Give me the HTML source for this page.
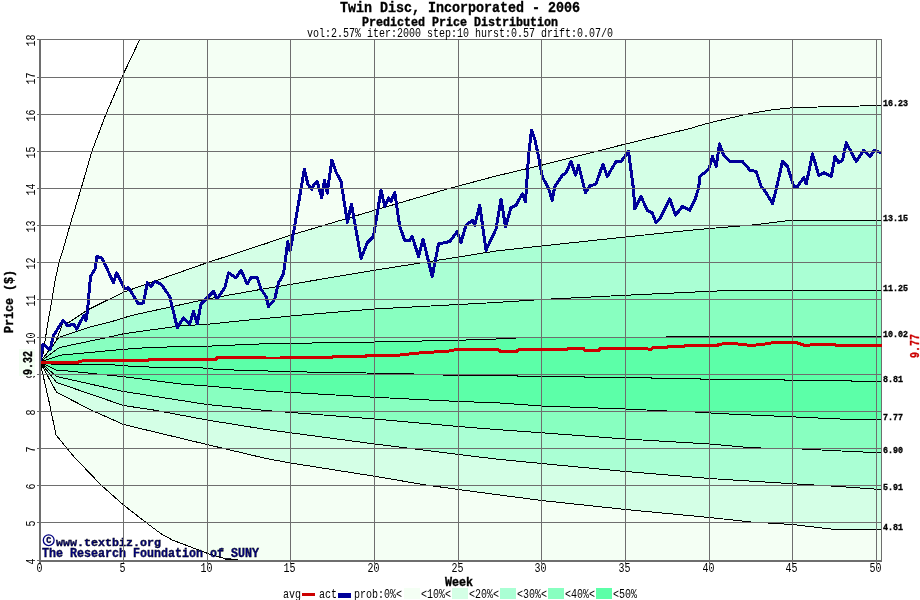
<!DOCTYPE html><html><head><meta charset="utf-8"><style>html,body{margin:0;padding:0;background:#fff;width:920px;height:600px;overflow:hidden}svg{display:block;will-change:transform}</style></head><body>
<svg width="920" height="600" viewBox="0 0 920 600" font-family="&quot;Liberation Mono&quot;, monospace">
<defs><clipPath id="pc"><rect x="40" y="39" width="842" height="522"/></clipPath></defs>
<g clip-path="url(#pc)">
<rect x="40" y="39" width="842" height="522" fill="#fff"/>
<polygon points="40,362 43,354 45.6,337 48.4,320 52,299 55.6,278 59.2,262 63,250 70,225 81,189 92,151 106,114 122,77 140,39 882,39 882,561 40,561" fill="#f4fff4"/>
<polygon points="40,362 55.6,342.2 63.5,321.5 68.6,322.6 88.2,309.6 123.5,292.2 207,262.75 266,243.5 290.5,235.25 374.5,210.25 447.25,189 496,176 541.5,165.25 625.5,144 690,128.5 709.5,122.75 750,113.5 772.5,109.75 792.5,107.75 835,106.5 860,106 881,105.4 882,105.4 882,561 40,561" fill="#d4ffe6"/>
<polygon points="40,362 57.7,339 60,337 90.3,327 117.4,320 123.5,317.8 136,314.5 207,299 266,288.5 374.5,270.25 458.5,257 496,251 541.5,246 625.5,237 690,230.25 709.5,228.5 755,224.75 791.25,220.25 881,220.25 882,220.25 882,561 40,561" fill="#aaffd4"/>
<polygon points="40,362 57.7,348.7 60,347.4 109.5,337 123.9,333.7 180,325.9 207,324.3 245,320.4 300,315.2 374.5,309 496,302.5 541.5,299.5 625.5,295.25 690,292.25 733.75,290.25 881,290.25 882,290.25 882,561 40,561" fill="#88ffc0"/>
<polygon points="40,362 56.6,356.4 60,355.2 123.9,349.3 150,347.4 180,346.7 207,346.2 232,345.2 249,344.2 300,343.2 374.5,342 458.5,340.25 496,339 532,337.2 666,337 667,336.2 881,336.2 882,336.2 882,561 40,561" fill="#5cffa8"/>
<polygon points="40,362 56.6,370.5 60,370.2 123.9,376.7 180,383.9 207,386 266,391 374.5,397.25 458.5,401.5 496,402.75 541.5,406 625.5,409 667.25,411 701,412.25 717.5,413.5 785,416.5 851.25,419.5 881,419.5 882,419.5 882,561 40,561" fill="#88ffc0"/>
<polygon points="40,362 56.6,376.5 123.5,391.5 207,404.5 266,410.5 374.5,419 458.5,426.5 496,429.5 541.5,432.75 625.5,439 709.75,444 751.25,447.75 801.25,449 851.25,451.5 881,452.75 882,452.75 882,561 40,561" fill="#aaffd4"/>
<polygon points="40,362 56.6,382.5 123.5,405.5 153.5,410 207,420 266,429.5 374.5,444 458.5,454.5 496,459 541.5,463.5 625.5,471.5 709.5,478.5 792.5,483.75 835,486.25 881,489.5 882,489.5 882,561 40,561" fill="#d4ffe6"/>
<polygon points="40,362 56.6,392.3 91,410 123.5,424.5 207,444.5 266,458.5 290.5,463 374.5,476.25 426,485 458.5,489.5 496,494.5 541.5,500.5 625.5,509.5 709.5,517.5 751.25,522 792.5,524.5 835,529.5 881,529.5 882,529.5 882,561 40,561" fill="#f4fff4"/>
<polygon points="40,362 49.6,404 56,435 73.5,456.25 101,485 123.5,505 146,522.5 161,533.75 172.25,540 208.5,553.75 222.7,558 225,559 236,559.5 250,563 40,561" fill="#fff"/>
</g>
<g fill="none" stroke="#000" stroke-width="1" shape-rendering="crispEdges" clip-path="url(#pc)">
<polyline points="40,362 43,354 45.6,337 48.4,320 52,299 55.6,278 59.2,262 63,250 70,225 81,189 92,151 106,114 122,77 140,39"/>
<polyline points="40,362 55.6,342.2 63.5,321.5 68.6,322.6 88.2,309.6 123.5,292.2 207,262.75 266,243.5 290.5,235.25 374.5,210.25 447.25,189 496,176 541.5,165.25 625.5,144 690,128.5 709.5,122.75 750,113.5 772.5,109.75 792.5,107.75 835,106.5 860,106 881,105.4"/>
<polyline points="40,362 57.7,339 60,337 90.3,327 117.4,320 123.5,317.8 136,314.5 207,299 266,288.5 374.5,270.25 458.5,257 496,251 541.5,246 625.5,237 690,230.25 709.5,228.5 755,224.75 791.25,220.25 881,220.25"/>
<polyline points="40,362 57.7,348.7 60,347.4 109.5,337 123.9,333.7 180,325.9 207,324.3 245,320.4 300,315.2 374.5,309 496,302.5 541.5,299.5 625.5,295.25 690,292.25 733.75,290.25 881,290.25"/>
<polyline points="40,362 56.6,356.4 60,355.2 123.9,349.3 150,347.4 180,346.7 207,346.2 232,345.2 249,344.2 300,343.2 374.5,342 458.5,340.25 496,339 532,337.2 666,337 667,336.2 881,336.2"/>
<polyline points="40,362 56.6,365 81.5,364.3 114.8,365 131.7,366.3 164.3,367.6 199,367.6 216,369.3 249,370.6 281.7,371.3 316,372.25 399.75,373.5 449.75,375.25 490,375.5 517,375.5 517,376.5 584,376.5 584,377.5 651,377.5 651,378.5 700,378.5 700,379.5 784,379.5 784,380.5 851,380.5 851,381.5 881,381.5"/>
<polyline points="40,362 56.6,370.5 60,370.2 123.9,376.7 180,383.9 207,386 266,391 374.5,397.25 458.5,401.5 496,402.75 541.5,406 625.5,409 667.25,411 701,412.25 717.5,413.5 785,416.5 851.25,419.5 881,419.5"/>
<polyline points="40,362 56.6,376.5 123.5,391.5 207,404.5 266,410.5 374.5,419 458.5,426.5 496,429.5 541.5,432.75 625.5,439 709.75,444 751.25,447.75 801.25,449 851.25,451.5 881,452.75"/>
<polyline points="40,362 56.6,382.5 123.5,405.5 153.5,410 207,420 266,429.5 374.5,444 458.5,454.5 496,459 541.5,463.5 625.5,471.5 709.5,478.5 792.5,483.75 835,486.25 881,489.5"/>
<polyline points="40,362 56.6,392.3 91,410 123.5,424.5 207,444.5 266,458.5 290.5,463 374.5,476.25 426,485 458.5,489.5 496,494.5 541.5,500.5 625.5,509.5 709.5,517.5 751.25,522 792.5,524.5 835,529.5 881,529.5"/>
<polyline points="40,362 49.6,404 56,435 73.5,456.25 101,485 123.5,505 146,522.5 161,533.75 172.25,540 208.5,553.75 222.7,558 225,559 236,559.5 250,563"/>
</g>
<polyline points="40,362 41.4,355 43,344.3 50.1,349.8 53.4,335.7 63.2,320.4 67.5,325.9 73.5,324.2 76.8,329 83.8,315.5 86,320.4 87.6,309.6 89.3,290 90.5,276.5 95,269 97,256.5 102,258 113.5,282.75 116.5,272.75 124.75,289 128.5,287.75 138.5,304 143.5,302.75 147.25,282.75 151,286.5 154.75,281.5 161,284 169.75,296.5 177.25,327.75 183.5,317.75 189.75,324 193.5,311.5 197.25,324 201,304 213.5,291.5 217.25,299 224.75,287.75 228.5,272.75 236,277.75 241,270.25 247.25,284 251,277.75 257.25,277.75 261,289 266,296.5 268.5,306.5 274.75,299 278.5,282.75 283.5,274 287.75,241.75 290.1,251 294.2,228.9 304.3,169.3 307.9,184 311.6,189.4 314.4,184 317.1,181.2 321.7,197.7 324.4,180.3 327.2,193.1 331.8,160.1 336.4,172.9 341,181.2 347.4,222.5 351.4,204.1 361.1,258.3 367.25,242.75 373.5,236.5 381,190.25 384.75,206.5 388.5,197.75 391,201.5 394.75,192.75 399.75,226.5 404.75,240.25 409.75,240.25 412.25,236.5 418.5,256.5 423,239 432.25,276.5 438.5,244 449.75,241.5 457.25,231.5 461,242.75 466,225.25 472.25,220.25 474.75,225.25 479.75,205.25 486,250.25 496,229 501,199 505.5,226.5 511,207.75 516,205.25 522.25,194 525.5,201.5 528.5,156.5 531.5,130.25 534.75,139 538.5,156.5 542.25,176.5 548.5,188.5 552.25,200.25 554.75,186.5 562.25,175.25 566,172.75 571,161.5 575.5,175.25 578.5,165.25 585.5,192.75 589.75,186 596,184 603,164 607.25,176.5 616,161.5 621,161.5 628.5,151.5 633.5,189 634.75,209 641,196.5 647.25,210.25 652.25,212.75 656,222.75 659.75,219 669.75,199 675.5,215.25 682.25,206.5 689.75,210.25 694.75,200.25 698.5,188.5 700,176.5 708.75,169 712.5,156.5 716.25,166.5 719.5,144 723.75,155.25 730,161.5 742.5,161.5 750,170.25 756.25,171.5 761.25,186.5 763.75,189 772.5,203.5 776.25,189 782.5,161.5 787.5,166.5 793.75,186.5 797.5,186.5 803.75,177.75 806.25,184 812.5,154 818.75,175.25 823.75,172.75 831.25,176.5 835,156.5 838.75,162.75 842.5,160.25 846.25,142.75 856.25,161.5 863.75,150.25 870,156.5 874.5,150.25 881,152.75" fill="none" stroke="#000099" stroke-width="3" stroke-linejoin="round" shape-rendering="crispEdges" clip-path="url(#pc)"/>
<g fill="#000080">
<circle cx="48.7" cy="540.2" r="5.4" fill="none" stroke="#000080" stroke-width="1.3"/>
<text x="48.7" y="543" text-anchor="middle" font-size="8.33" textLength="5" lengthAdjust="spacingAndGlyphs" font-weight="bold" stroke="currentColor" stroke-width="0.35">C</text>
<text x="56" y="546" text-anchor="start" font-size="10.61" textLength="105" lengthAdjust="spacingAndGlyphs" font-weight="bold" stroke="currentColor" stroke-width="0.35">www.textbiz.org</text>
<text x="42" y="557" text-anchor="start" font-size="12.12" textLength="217" lengthAdjust="spacingAndGlyphs" font-weight="bold" stroke="currentColor" stroke-width="0.35">The Research Foundation of_SUNY</text>
</g>
<g stroke="#6e6e6e" stroke-width="1" shape-rendering="crispEdges">
<line x1="123.5" y1="39" x2="123.5" y2="564"/>
<line x1="207.5" y1="39" x2="207.5" y2="564"/>
<line x1="290.5" y1="39" x2="290.5" y2="564"/>
<line x1="374.5" y1="39" x2="374.5" y2="564"/>
<line x1="458.5" y1="39" x2="458.5" y2="564"/>
<line x1="541.5" y1="39" x2="541.5" y2="564"/>
<line x1="625.5" y1="39" x2="625.5" y2="564"/>
<line x1="709.5" y1="39" x2="709.5" y2="564"/>
<line x1="792.5" y1="39" x2="792.5" y2="564"/>
<line x1="876.5" y1="39" x2="876.5" y2="564"/>
<line x1="37" y1="39.5" x2="882" y2="39.5"/>
<line x1="37" y1="77.5" x2="882" y2="77.5"/>
<line x1="37" y1="114.5" x2="882" y2="114.5"/>
<line x1="37" y1="151.5" x2="882" y2="151.5"/>
<line x1="37" y1="188.5" x2="882" y2="188.5"/>
<line x1="37" y1="225.5" x2="882" y2="225.5"/>
<line x1="37" y1="262.5" x2="882" y2="262.5"/>
<line x1="37" y1="299.5" x2="882" y2="299.5"/>
<line x1="37" y1="337.5" x2="882" y2="337.5"/>
<line x1="37" y1="374.5" x2="882" y2="374.5"/>
<line x1="37" y1="411.5" x2="882" y2="411.5"/>
<line x1="37" y1="448.5" x2="882" y2="448.5"/>
<line x1="37" y1="485.5" x2="882" y2="485.5"/>
<line x1="37" y1="522.5" x2="882" y2="522.5"/>
<line x1="37" y1="560.5" x2="39" y2="560.5"/>
<line x1="881.5" y1="39" x2="881.5" y2="562"/>
</g>
<rect x="39" y="39" width="2" height="525" fill="#6e6e6e"/>
<rect x="39" y="560" width="843" height="2" fill="#6e6e6e"/>
<polyline points="41,362 78.5,362 86,360 148.5,360 150,359 216,359 217,357.75 266,358 281,358 282.25,357 332.25,357 333.5,356 366,356 367.25,355 399.8,355 416.7,353.2 433.7,352 447.8,351.2 454.9,349.8 498.6,349.8 500,351 517,351 518.4,349.8 566.4,349.8 567.8,348.4 583.4,348.4 584.8,350.2 598.9,350.2 600.3,348.4 640,348.6 651.2,349.2 652.6,347.8 666.7,347.8 668.1,346.4 683.7,346.4 685,345.5 717.6,345.5 719,344.1 734.5,343.6 751.5,345.5 764.2,344.1 772.7,342.7 796.7,342.7 805.1,345.5 817.9,344.1 834.8,344.1 836.2,345.5 882,345.5" fill="none" stroke="#cc0000" stroke-width="3" stroke-linejoin="miter" shape-rendering="crispEdges"/>
<g fill="#000">
<text x="460" y="12" text-anchor="middle" font-size="15.15" textLength="240" lengthAdjust="spacingAndGlyphs" font-weight="bold" stroke="currentColor" stroke-width="0.35">Twin Disc, Incorporated - 2006</text>
<text x="460" y="26" text-anchor="middle" font-size="12.12" textLength="196" lengthAdjust="spacingAndGlyphs" font-weight="bold" stroke="currentColor" stroke-width="0.35">Predicted Price Distribution</text>
<text x="460" y="37" text-anchor="middle" font-size="12.12" textLength="306" lengthAdjust="spacingAndGlyphs">vol:2.57% iter:2000 step:10 hurst:0.57 drift:0.07/0</text>
<text transform="translate(35,40.5) rotate(-90)" text-anchor="middle" font-size="12.12" textLength="12" lengthAdjust="spacingAndGlyphs">18</text>
<text transform="translate(35,78.5) rotate(-90)" text-anchor="middle" font-size="12.12" textLength="12" lengthAdjust="spacingAndGlyphs">17</text>
<text transform="translate(35,115.5) rotate(-90)" text-anchor="middle" font-size="12.12" textLength="12" lengthAdjust="spacingAndGlyphs">16</text>
<text transform="translate(35,152.5) rotate(-90)" text-anchor="middle" font-size="12.12" textLength="12" lengthAdjust="spacingAndGlyphs">15</text>
<text transform="translate(35,189.5) rotate(-90)" text-anchor="middle" font-size="12.12" textLength="12" lengthAdjust="spacingAndGlyphs">14</text>
<text transform="translate(35,226.5) rotate(-90)" text-anchor="middle" font-size="12.12" textLength="12" lengthAdjust="spacingAndGlyphs">13</text>
<text transform="translate(35,263.5) rotate(-90)" text-anchor="middle" font-size="12.12" textLength="12" lengthAdjust="spacingAndGlyphs">12</text>
<text transform="translate(35,300.5) rotate(-90)" text-anchor="middle" font-size="12.12" textLength="12" lengthAdjust="spacingAndGlyphs">11</text>
<text transform="translate(35,338.5) rotate(-90)" text-anchor="middle" font-size="12.12" textLength="12" lengthAdjust="spacingAndGlyphs">10</text>
<text transform="translate(35,375.5) rotate(-90)" text-anchor="middle" font-size="12.12" textLength="6" lengthAdjust="spacingAndGlyphs">9</text>
<text transform="translate(35,412.5) rotate(-90)" text-anchor="middle" font-size="12.12" textLength="6" lengthAdjust="spacingAndGlyphs">8</text>
<text transform="translate(35,449.5) rotate(-90)" text-anchor="middle" font-size="12.12" textLength="6" lengthAdjust="spacingAndGlyphs">7</text>
<text transform="translate(35,486.5) rotate(-90)" text-anchor="middle" font-size="12.12" textLength="6" lengthAdjust="spacingAndGlyphs">6</text>
<text transform="translate(35,523.5) rotate(-90)" text-anchor="middle" font-size="12.12" textLength="6" lengthAdjust="spacingAndGlyphs">5</text>
<text transform="translate(35,561.5) rotate(-90)" text-anchor="middle" font-size="12.12" textLength="6" lengthAdjust="spacingAndGlyphs">4</text>
<rect x="19" y="349" width="16" height="27" fill="#f4fff4"/>
<text transform="translate(13,301.5) rotate(-90)" text-anchor="middle" font-size="12.12" textLength="63" lengthAdjust="spacingAndGlyphs" font-weight="bold" stroke="currentColor" stroke-width="0.35">Price ($)</text>
<text transform="translate(32,363) rotate(-90)" text-anchor="middle" font-size="13.64" textLength="24" lengthAdjust="spacingAndGlyphs" font-weight="bold" stroke="currentColor" stroke-width="0.35">9.32</text>
<text x="39.5" y="572" text-anchor="middle" font-size="12.12" textLength="6" lengthAdjust="spacingAndGlyphs">0</text>
<text x="122.5" y="572" text-anchor="middle" font-size="12.12" textLength="6" lengthAdjust="spacingAndGlyphs">5</text>
<text x="206.5" y="572" text-anchor="middle" font-size="12.12" textLength="12" lengthAdjust="spacingAndGlyphs">10</text>
<text x="289.5" y="572" text-anchor="middle" font-size="12.12" textLength="12" lengthAdjust="spacingAndGlyphs">15</text>
<text x="373.5" y="572" text-anchor="middle" font-size="12.12" textLength="12" lengthAdjust="spacingAndGlyphs">20</text>
<text x="457.5" y="572" text-anchor="middle" font-size="12.12" textLength="12" lengthAdjust="spacingAndGlyphs">25</text>
<text x="540.5" y="572" text-anchor="middle" font-size="12.12" textLength="12" lengthAdjust="spacingAndGlyphs">30</text>
<text x="624.5" y="572" text-anchor="middle" font-size="12.12" textLength="12" lengthAdjust="spacingAndGlyphs">35</text>
<text x="708.5" y="572" text-anchor="middle" font-size="12.12" textLength="12" lengthAdjust="spacingAndGlyphs">40</text>
<text x="791.5" y="572" text-anchor="middle" font-size="12.12" textLength="12" lengthAdjust="spacingAndGlyphs">45</text>
<text x="875.5" y="572" text-anchor="middle" font-size="12.12" textLength="12" lengthAdjust="spacingAndGlyphs">50</text>
<text x="459" y="586" text-anchor="middle" font-size="12.12" textLength="28" lengthAdjust="spacingAndGlyphs" font-weight="bold" stroke="currentColor" stroke-width="0.35">Week</text>
<text x="883" y="106" text-anchor="start" font-size="9.09" textLength="25" lengthAdjust="spacingAndGlyphs" font-weight="bold" stroke="currentColor" stroke-width="0.35">16.23</text>
<text x="883" y="221" text-anchor="start" font-size="9.09" textLength="25" lengthAdjust="spacingAndGlyphs" font-weight="bold" stroke="currentColor" stroke-width="0.35">13.15</text>
<text x="883" y="291" text-anchor="start" font-size="9.09" textLength="25" lengthAdjust="spacingAndGlyphs" font-weight="bold" stroke="currentColor" stroke-width="0.35">11.25</text>
<text x="883" y="337" text-anchor="start" font-size="9.09" textLength="25" lengthAdjust="spacingAndGlyphs" font-weight="bold" stroke="currentColor" stroke-width="0.35">10.02</text>
<text x="883" y="382" text-anchor="start" font-size="9.09" textLength="20" lengthAdjust="spacingAndGlyphs" font-weight="bold" stroke="currentColor" stroke-width="0.35">8.81</text>
<text x="883" y="420" text-anchor="start" font-size="9.09" textLength="20" lengthAdjust="spacingAndGlyphs" font-weight="bold" stroke="currentColor" stroke-width="0.35">7.77</text>
<text x="883" y="453" text-anchor="start" font-size="9.09" textLength="20" lengthAdjust="spacingAndGlyphs" font-weight="bold" stroke="currentColor" stroke-width="0.35">6.90</text>
<text x="883" y="490" text-anchor="start" font-size="9.09" textLength="20" lengthAdjust="spacingAndGlyphs" font-weight="bold" stroke="currentColor" stroke-width="0.35">5.91</text>
<text x="883" y="530" text-anchor="start" font-size="9.09" textLength="20" lengthAdjust="spacingAndGlyphs" font-weight="bold" stroke="currentColor" stroke-width="0.35">4.81</text>
<text transform="translate(919,346) rotate(-90)" text-anchor="middle" font-size="13.64" textLength="24" lengthAdjust="spacingAndGlyphs" font-weight="bold" stroke="#cc0000" stroke-width="0.35" fill="#cc0000">9.77</text>
</g>
<g fill="#000">
<text x="283" y="598" text-anchor="start" font-size="12.12" textLength="18" lengthAdjust="spacingAndGlyphs">avg</text>
<rect x="302" y="593" width="13" height="3" fill="#cc0000"/>
<text x="319" y="598" text-anchor="start" font-size="12.12" textLength="18" lengthAdjust="spacingAndGlyphs">act</text>
<rect x="338" y="593" width="13" height="5" fill="#000099"/>
<text x="354" y="598" text-anchor="start" font-size="12.12" textLength="48" lengthAdjust="spacingAndGlyphs">prob:0%&lt;</text>
<rect x="404" y="588" width="16" height="11" fill="#f4fff4"/>
<text x="421" y="598" text-anchor="start" font-size="12.12" textLength="30" lengthAdjust="spacingAndGlyphs">&lt;10%&lt;</text>
<rect x="452" y="588" width="16" height="11" fill="#d4ffe6"/>
<text x="469" y="598" text-anchor="start" font-size="12.12" textLength="30" lengthAdjust="spacingAndGlyphs">&lt;20%&lt;</text>
<rect x="500" y="588" width="16" height="11" fill="#aaffd4"/>
<text x="517" y="598" text-anchor="start" font-size="12.12" textLength="30" lengthAdjust="spacingAndGlyphs">&lt;30%&lt;</text>
<rect x="548" y="588" width="16" height="11" fill="#88ffc0"/>
<text x="565" y="598" text-anchor="start" font-size="12.12" textLength="30" lengthAdjust="spacingAndGlyphs">&lt;40%&lt;</text>
<rect x="596" y="588" width="16" height="11" fill="#5cffa8"/>
<text x="613" y="598" text-anchor="start" font-size="12.12" textLength="24" lengthAdjust="spacingAndGlyphs">&lt;50%</text>
</g>
</svg></body></html>
